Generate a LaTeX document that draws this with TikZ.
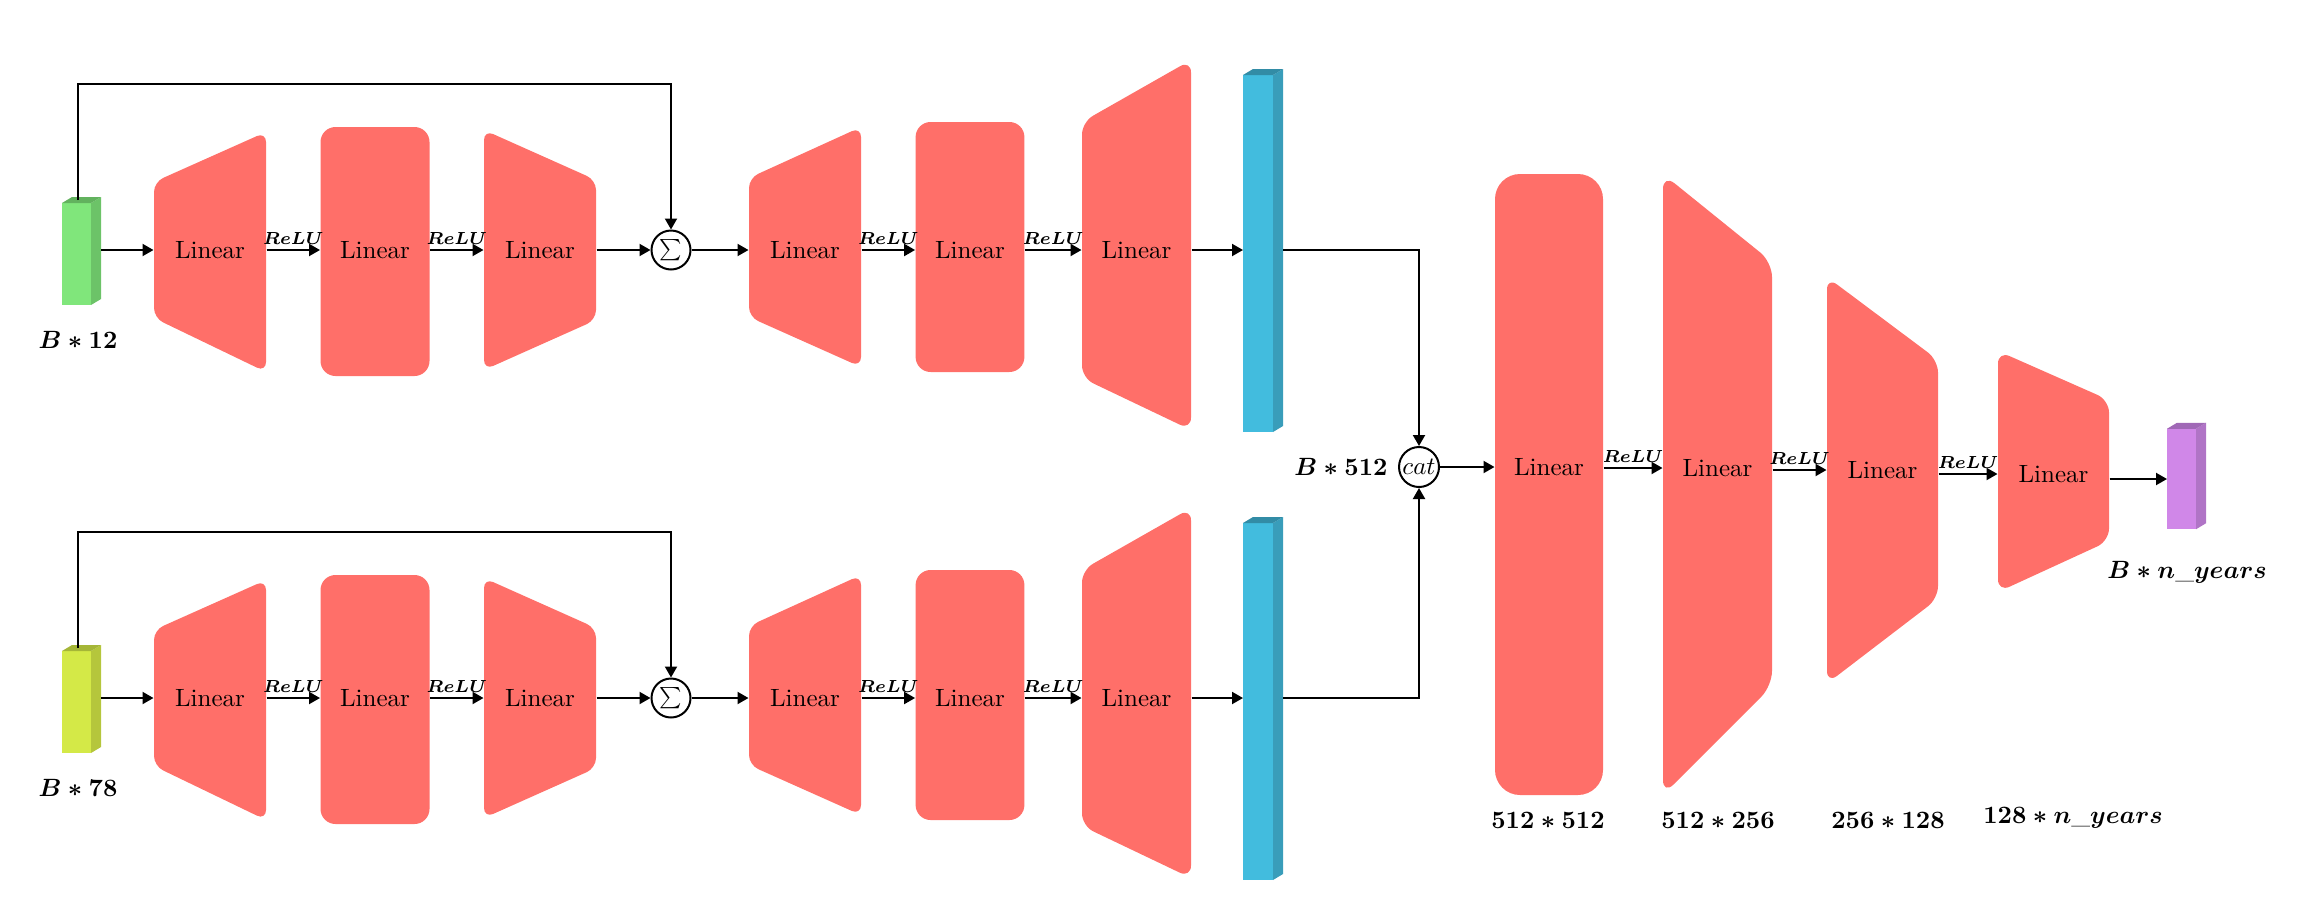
\documentclass[tikz,border=0pt]{standalone}
\usepackage{amsmath}
\usetikzlibrary{arrows.meta,calc}

\definecolor{layerred}{RGB}{255,111,105}
\definecolor{grnfront}{RGB}{128,230,123}
\definecolor{grnside}{RGB}{108,195,104}
\definecolor{grntop}{RGB}{98,178,94}
\definecolor{ylwfront}{RGB}{212,233,71}
\definecolor{ylwside}{RGB}{181,198,60}
\definecolor{ylwtop}{RGB}{165,182,55}
\definecolor{blufront}{RGB}{66,188,222}
\definecolor{bluside}{RGB}{57,157,186}
\definecolor{blutop}{RGB}{50,140,166}
\definecolor{prpfront}{RGB}{208,135,232}
\definecolor{prpside}{RGB}{176,116,198}
\definecolor{prptop}{RGB}{160,104,182}

\tikzset{
  arr/.style={line width=0.8pt, -{Triangle[length=4.4pt,width=4.8pt]}},
  lin/.style={inner sep=0pt, minimum height=10pt},
  relu/.style={font=\scriptsize, inner sep=2pt, above},
  dim/.style={inner sep=0pt},
  opnode/.style={draw, circle, line width=0.8pt, inner sep=0pt, minimum size=15.6pt},
}

% layer block: name, centre x, text y, half width,
% left top, left bottom, right top, right bottom, corner radius
\newcommand\layer[9]{%
  \fill[layerred, rounded corners=#9]
    ({#2-#4},{(#5+#6)/2}) -- ({#2-#4},#5) -- ({#2+#4},#7) -- ({#2+#4},#8) -- ({#2-#4},#6) -- cycle;
  \node[lin, minimum width={2*#4*0.4pt}] (#1) at (#2,#3) {Linear};
}

% tensor drawn as a cuboid: name, centre x, centre y, width, height, colour prefix
\newcommand\cuboid[6]{%
  \node[inner sep=0pt, outer sep=0pt, minimum width={#4*0.4pt}, minimum height={#5*0.4pt}, fill=#6front] (#1) at (#2,#3) {};
  \fill[#6side] (#1.north east) -- ++(10,-6) -- ($(#1.south east)+(10,-6)$) -- (#1.south east) -- cycle;
  \fill[#6top] (#1.north west) -- ++(10,-6) -- ($(#1.north east)+(10,-6)$) -- (#1.north east) -- cycle;
}

% one residual encoder branch: prefix, downward shift, input colour, input size
\newcommand\branch[4]{%
\begin{scope}[yshift={-#2*0.4pt}]
  \cuboid{#1in}{76.5}{254}{29}{102}{#3}
  \node[dim] (#1lab) at (78,340) {$\boldsymbol{#4}$};
  \coordinate (#1inout) at ($(#1in.east)+(10,-4)$);
  \layer{#1a}{210}{250}{56}{182}{318}{132}{372}{4pt}
  \layer{#1b}{375}{250}{54.5}{127}{376}{127}{376}{6pt}
  \layer{#1c}{540}{250}{56}{130}{370}{180}{320}{4pt}
  \node[opnode] (#1s) at (671,250) {\scalebox{0.85}{$\sum$}};
  \layer{#1d}{805}{250}{56}{178}{317}{127}{367}{4pt}
  \layer{#1e}{970}{250}{54.4}{122}{372}{122}{372}{6pt}
  \layer{#1f}{1136.5}{250}{54.5}{122}{378}{60}{430}{5pt}
  \cuboid{#1bar}{1258}{253.5}{30}{357}{blu}
  \coordinate (#1out) at ($(#1bar.east)+(10,-3.5)$);
  \draw[arr] (#1inout) -- (#1a.west);
  \draw[arr] (#1a.east) -- node[relu] {$\boldsymbol{ReLU}$} (#1b.west);
  \draw[arr] (#1b.east) -- node[relu] {$\boldsymbol{ReLU}$} (#1c.west);
  \draw[arr] (#1c.east) -- (#1s.west);
  \draw[arr] ($(#1in.north)+(1.5,-3)$) -- ++(0,-116) -| (#1s.north);
  \draw[arr] (#1s.east) -- (#1d.west);
  \draw[arr] (#1d.east) -- node[relu] {$\boldsymbol{ReLU}$} (#1e.west);
  \draw[arr] (#1e.east) -- node[relu] {$\boldsymbol{ReLU}$} (#1f.west);
  \draw[arr] (#1f.east) -- (#1f.east -| #1bar.west);
\end{scope}}

\begin{document}
\begin{tikzpicture}[x=0.4pt, y=-0.4pt]
  \useasboundingbox (0,0) rectangle (2298,914);

  % two encoder branches
  \branch{t}{0}{grn}{B*12}
  \branch{u}{448}{ylw}{B*78}

  % concatenation
  \node[opnode, minimum size=16pt] (cat) at (1419,467) {$cat$};
  \node[dim] (catlab) at (1341,467) {$\boldsymbol{B*512}$};
  \draw[arr] (tout) -| (cat.north);
  \draw[arr] (uout) -| (cat.south);

  % prediction head
  \layer{g}{1549}{467}{54}{174}{795}{174}{795}{10pt}
  \layer{h}{1717.5}{468}{54.5}{174}{795}{262}{686}{6pt}
  \layer{i}{1882.5}{470}{55.5}{277}{683.5}{360}{598.6}{5pt}
  \layer{j}{2053.5}{474}{55.5}{351}{592}{400}{541}{5pt}
  \cuboid{res}{2181.5}{479}{29}{100.5}{prp}

  \draw[arr] (cat.east) -- (cat.east -| g.west);
  \draw[arr] (g.east |- h.west) -- node[relu] {$\boldsymbol{ReLU}$} (h.west);
  \draw[arr] (h.east |- i.west) -- node[relu] {$\boldsymbol{ReLU}$} (i.west);
  \draw[arr] (i.east |- j.west) -- node[relu] {$\boldsymbol{ReLU}$} (j.west);
  \draw[arr] (j.east |- res.west) -- (res.west);

  \node[dim] (reslab) at (2187,572) {$\boldsymbol{B*n\_years}$};

  % weight shapes
  \node[dim] (gdim) at (1548,820) {$\boldsymbol{512*512}$};
  \node[dim] (hdim) at (1718,820) {$\boldsymbol{512*256}$};
  \node[dim] (idim) at (1888,820) {$\boldsymbol{256*128}$};
  \node[dim] (jdim) at (2073,818) {$\boldsymbol{128*n\_years}$};
\end{tikzpicture}
\end{document}
